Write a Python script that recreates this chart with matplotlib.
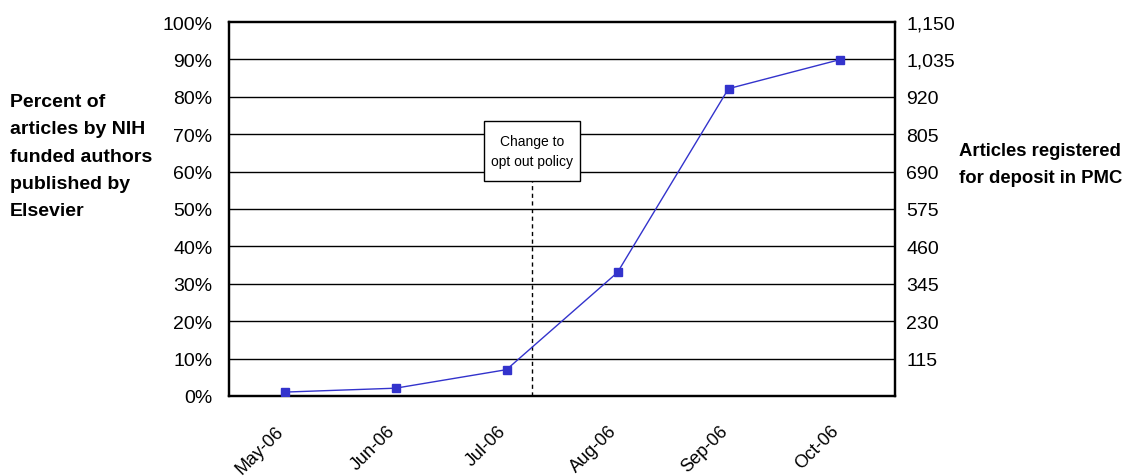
import matplotlib
matplotlib.use("Agg")
import matplotlib.pyplot as plt
import matplotlib.transforms as mtransforms
from matplotlib.patches import Rectangle
from matplotlib.ticker import FixedLocator

plt.rcParams['font.family'] = ['Liberation Sans Narrow', 'Liberation Sans', 'DejaVu Sans']

months = ["May-06", "Jun-06", "Jul-06", "Aug-06", "Sep-06", "Oct-06"]
articles = [12, 24, 81, 380, 945, 1034]
pct_ticks = list(range(0, 101, 10))
count_ticks = list(range(0, 1151, 115))
policy_change_pos = 2.23

fig = plt.figure(figsize=(11.35, 4.77), dpi=100)
ax = fig.add_axes([229/1135, 1 - 397/477, (895-229)/1135, (397-23)/477])
ax2 = ax.twinx()

x = list(range(len(months)))
ax.set_xlim(-0.5, len(months) - 0.5)
ax.set_ylim(0, 100)
ax2.set_ylim(0, 1150)

# horizontal gridlines at every 10%
for t in pct_ticks[1:-1]:
    ax.axhline(t, color='black', lw=1.0, zorder=1)

ax.yaxis.set_major_locator(FixedLocator(pct_ticks))
ax.set_yticklabels([f"{t}%" for t in pct_ticks])
ax2.yaxis.set_major_locator(FixedLocator(count_ticks))
ax2.set_yticklabels(["" if t == 0 else f"{t:,}" for t in count_ticks])

# month labels: rotated, ending just left of and below each category position
ax.set_xticks(x)
ax.set_xticklabels([])
label_tf = mtransforms.blended_transform_factory(ax.transData, ax.transAxes) + \
    mtransforms.ScaledTranslation(-0.03, -0.32, fig.dpi_scale_trans)
for xi, m in zip(x, months):
    ax.text(xi, 0, m, transform=label_tf, rotation=45, rotation_mode='anchor',
            ha='right', va='center', fontsize=13)

for a in (ax, ax2):
    a.tick_params(length=0, labelsize=14)
    for s in a.spines.values():
        s.set_linewidth(1.6)
ax.tick_params(axis='y', pad=12)
ax2.tick_params(axis='y', pad=8)

# series on the article-count axis
ax2.plot(x, articles, color='#3333CC', lw=1.0, marker='s', markersize=6,
         markerfacecolor='#3333CC', markeredgecolor='#3333CC', zorder=5)

# policy change marker: callout box with dashed drop line
box_w, box_bottom, box_top = 0.87, 57.5, 73.6
ax.plot([policy_change_pos, policy_change_pos], [0, box_bottom], color='black',
        lw=1.0, ls=(0, (3, 2.5)), zorder=3)
ax.add_patch(Rectangle((policy_change_pos - box_w / 2, box_bottom), box_w, box_top - box_bottom,
                       facecolor='white', edgecolor='black', lw=1.0, zorder=6))
ax.text(policy_change_pos, (box_bottom + box_top) / 2, "Change to\nopt out policy",
        ha='center', va='center', fontsize=10, linespacing=1.6, zorder=7)

fig.text(10/1135, 1 - 157/477, "Percent of\narticles by NIH\nfunded authors\npublished by\nElsevier",
         ha='left', va='center', fontsize=14, fontweight='bold', linespacing=1.78)
fig.text(959/1135, 1 - 165/477, "Articles registered\nfor deposit in PMC",
         ha='left', va='center', fontsize=13.3, fontweight='bold', linespacing=1.8)

fig.savefig("out.png", dpi=100, facecolor='white')
